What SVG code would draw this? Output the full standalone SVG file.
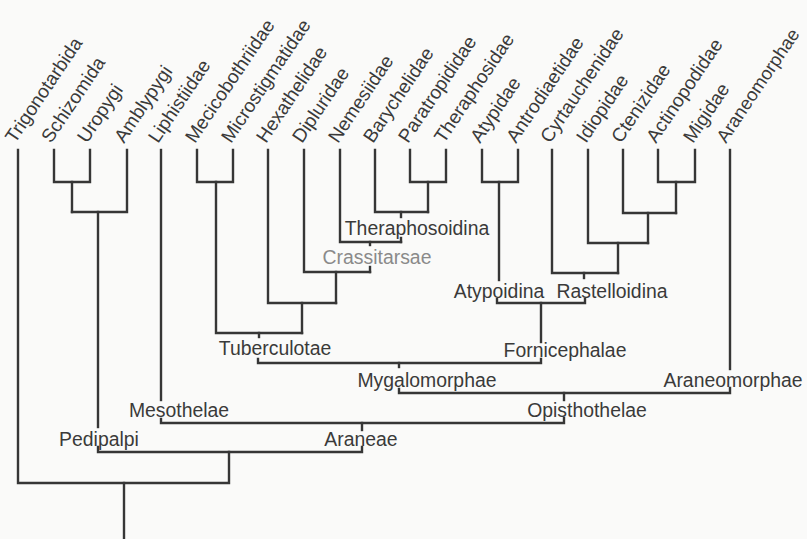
<svg xmlns="http://www.w3.org/2000/svg" width="807" height="539" viewBox="0 0 807 539">
<style>
.bg{fill:#fafaf9}
.ln{fill:none;stroke:#363636;stroke-width:2.4;stroke-linecap:square;stroke-linejoin:miter}
.lf{font-family:"Liberation Sans",Arial,sans-serif;font-size:19px;fill:#3a3a3a}
.cl{font-family:"Liberation Sans",Arial,sans-serif;font-size:19.4px;fill:#3a3a3a;text-anchor:middle}
.lt{fill:#8a8a8a}
</style>
<rect class="bg" x="0" y="0" width="807" height="539"/>
<g id="leaves">
<g id="n-trigonotarbida"><text class="lf" transform="translate(15,144) rotate(-56)">Trigonotarbida</text></g>
<g id="n-schizomida"><text class="lf" transform="translate(51,144) rotate(-56)">Schizomida</text></g>
<g id="n-uropygi"><text class="lf" transform="translate(87,144) rotate(-56)">Uropygi</text></g>
<g id="n-amblypygi"><text class="lf" transform="translate(124,144) rotate(-56)">Amblypygi</text></g>
<g id="n-liphistiidae"><text class="lf" transform="translate(158,144) rotate(-56)">Liphistiidae</text></g>
<g id="n-mecicobothriidae"><text class="lf" transform="translate(195,144) rotate(-56)">Mecicobothriidae</text></g>
<g id="n-microstigmatidae"><text class="lf" transform="translate(231,144) rotate(-56)">Microstigmatidae</text></g>
<g id="n-hexathelidae"><text class="lf" transform="translate(266,144) rotate(-56)">Hexathelidae</text></g>
<g id="n-dipluridae"><text class="lf" transform="translate(302,144) rotate(-56)">Dipluridae</text></g>
<g id="n-nemesiidae"><text class="lf" transform="translate(338,144) rotate(-56)">Nemesiidae</text></g>
<g id="n-barychelidae"><text class="lf" transform="translate(373,144) rotate(-56)">Barychelidae</text></g>
<g id="n-paratropididae"><text class="lf" transform="translate(408,144) rotate(-56)">Paratropididae</text></g>
<g id="n-theraphosidae"><text class="lf" transform="translate(444,144) rotate(-56)">Theraphosidae</text></g>
<g id="n-atypidae"><text class="lf" transform="translate(480,144) rotate(-56)">Atypidae</text></g>
<g id="n-antrodiaetidae"><text class="lf" transform="translate(516,144) rotate(-56)">Antrodiaetidae</text></g>
<g id="n-cyrtauchenidae"><text class="lf" transform="translate(550,144) rotate(-56)">Cyrtauchenidae</text></g>
<g id="n-idiopidae"><text class="lf" transform="translate(586,144) rotate(-56)">Idiopidae</text></g>
<g id="n-ctenizidae"><text class="lf" transform="translate(621,144) rotate(-56)">Ctenizidae</text></g>
<g id="n-actinopodidae"><text class="lf" transform="translate(656,144) rotate(-56)">Actinopodidae</text></g>
<g id="n-migidae"><text class="lf" transform="translate(693,144) rotate(-56)">Migidae</text></g>
<g id="n-araneomorphae-leaf"><text class="lf" transform="translate(726,144) rotate(-56)" style="font-size:18.5px">Araneomorphae</text></g>
</g>
<g id="clades">
<g id="n-theraphosoidina"><text class="cl" x="417" y="235">Theraphosoidina</text></g>
<g id="n-crassitarsae"><text class="cl lt" x="377" y="264">Crassitarsae</text></g>
<g id="n-atypoidina"><text class="cl" x="499" y="298">Atypoidina</text></g>
<g id="n-rastelloidina"><text class="cl" x="612" y="298">Rastelloidina</text></g>
<g id="n-tuberculotae"><text class="cl" x="275" y="355">Tuberculotae</text></g>
<g id="n-fornicephalae"><text class="cl" x="565" y="357">Fornicephalae</text></g>
<g id="n-mygalomorphae"><text class="cl" x="427" y="387">Mygalomorphae</text></g>
<g id="n-araneomorphae"><text class="cl" x="733" y="387">Araneomorphae</text></g>
<g id="n-mesothelae"><text class="cl" x="179" y="417">Mesothelae</text></g>
<g id="n-opisthothelae"><text class="cl" x="587" y="417">Opisthothelae</text></g>
<g id="n-pedipalpi"><text class="cl" x="99" y="446">Pedipalpi</text></g>
<g id="n-araneae"><text class="cl" x="361" y="446">Araneae</text></g>
</g>
<g id="connectors" class="ln">
<path d="M18,150 V483 H229 V452"/>
<path d="M124,483 V539"/>
<path d="M54,150 V182 H90 V150"/>
<path d="M72,182 V212"/>
<path d="M127,150 V212 H72"/>
<path d="M98,212 V427"/>
<path d="M98,447 V452 H362 V447"/>
<path d="M161,150 V400"/>
<path d="M161,419 V423 H564 V418"/>
<path d="M362,423 V430"/>
<path d="M564,393 V400"/>
<path d="M730,150 V369"/>
<path d="M399,389 V393 H730 V388"/>
<path d="M399,363 V367"/>
<path d="M258,359 V363 H541 V359"/>
<path d="M197,150 V182 H233 V150"/>
<path d="M216,182 V333 H302"/>
<path d="M259,333 V337"/>
<path d="M268,150 V303 H336"/>
<path d="M302,303 V333"/>
<path d="M304,150 V272 H370"/>
<path d="M336,272 V303"/>
<path d="M370,267 V272"/>
<path d="M340,150 V242 H401"/>
<path d="M401,238 V242"/>
<path d="M370,242 V245"/>
<path d="M375,150 V212 H428"/>
<path d="M401,212 V217"/>
<path d="M410,150 V182 H446 V150"/>
<path d="M428,182 V212"/>
<path d="M482,150 V182 H518 V150"/>
<path d="M499,182 V280"/>
<path d="M552,150 V273 H618"/>
<path d="M588,150 V243 H648"/>
<path d="M623,150 V213 H676"/>
<path d="M658,150 V182 H695 V150"/>
<path d="M676,182 V213"/>
<path d="M648,213 V243"/>
<path d="M618,243 V273"/>
<path d="M584,273 V278"/>
<path d="M497,299 V303 H585 V299"/>
<path d="M541,303 V342"/>
</g>
</svg>
